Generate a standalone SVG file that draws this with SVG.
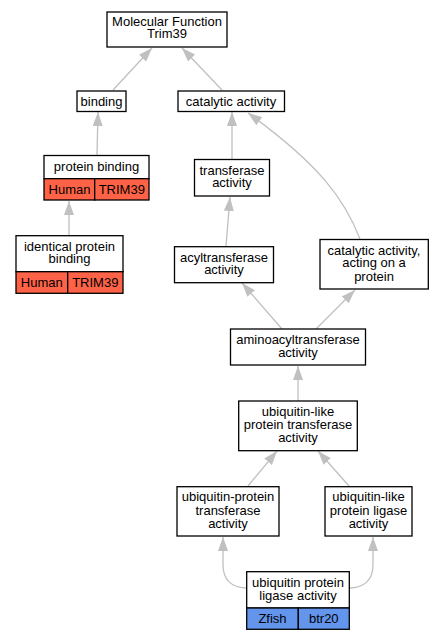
<svg xmlns="http://www.w3.org/2000/svg" width="443" height="640" viewBox="0 0 443 640">
<defs>
<marker id="ah" markerUnits="userSpaceOnUse" markerWidth="14" markerHeight="10" refX="14" refY="5" orient="auto">
<path d="M0,0 L14,5 L0,10 z" fill="#c0c0c0"/>
</marker>
<style>
.b{fill:#fff;stroke:#000;stroke-width:1.3}
.r{fill:#ff6347;stroke:#000;stroke-width:1.3}
.u{fill:#6495ed;stroke:#000;stroke-width:1.3}
text{font-family:"Liberation Sans",Arial,sans-serif;font-size:13px;text-anchor:middle;fill:#000}
.e path{fill:none;stroke:#c0c0c0;stroke-width:1.3;marker-end:url(#ah)}
</style>
</defs>
<rect width="443" height="640" fill="#fff"/>
<g class="e" id="edges">
<path d="M113,90 L152,48"/>
<path d="M222,90 L182,48"/>
<path d="M97,155 L98,112"/>
<path d="M69,235 L69,201"/>
<path d="M232,159 L232,112"/>
<path d="M226,246 L230,197"/>
<path d="M360,239 C345,200 320,165 248,113"/>
<path d="M282,329 L242,283"/>
<path d="M316,329 L355,290"/>
<path d="M298,401 L298,366"/>
<path d="M248,486 L277,451"/>
<path d="M349,486 L318,451"/>
<path d="M247,588 C232,588 223,580 223,565 L223,537"/>
<path d="M349,588 C364,588 373,580 373,565 L373,537"/>
</g>
<g id="n_mf"><rect class="b" x="107" y="12" width="120" height="35"/><text x="167" y="26">Molecular Function</text><text x="167" y="38">Trim39</text></g>
<g id="n_binding"><rect class="b" x="77" y="91" width="49" height="20.5"/><text x="101.5" y="106">binding</text></g>
<g id="n_cat"><rect class="b" x="178" y="91" width="106.5" height="20.5"/><text x="231" y="106">catalytic activity</text></g>
<g id="n_pb"><rect class="b" x="44" y="155.5" width="105" height="23.2"/><text x="96.5" y="170.5">protein binding</text>
<rect class="r" x="44" y="178.7" width="50.7" height="21.3"/><rect class="r" x="94.7" y="178.7" width="54.3" height="21.3"/><text x="69.5" y="194">Human</text><text x="121.8" y="194">TRIM39</text></g>
<g id="n_ipb"><rect class="b" x="16" y="235.7" width="107" height="36"/><text x="69.5" y="250.5">identical protein</text><text x="69.5" y="263">binding</text>
<rect class="r" x="16" y="271.7" width="51.7" height="21.6"/><rect class="r" x="67.7" y="271.7" width="55.3" height="21.6"/><text x="41.8" y="287">Human</text><text x="95.3" y="287">TRIM39</text></g>
<g id="n_tr"><rect class="b" x="194.5" y="159.5" width="75" height="36.5"/><text x="232" y="174.5">transferase</text><text x="232" y="187">activity</text></g>
<g id="n_acyl"><rect class="b" x="174.5" y="246.7" width="99" height="36"/><text x="224" y="261.5">acyltransferase</text><text x="224" y="274">activity</text></g>
<g id="n_cap"><rect class="b" x="320" y="239.5" width="108.3" height="49.5"/><text x="374" y="254.5">catalytic activity,</text><text x="374" y="267">acting on a</text><text x="374" y="281">protein</text></g>
<g id="n_amino"><rect class="b" x="230.5" y="329" width="135" height="36"/><text x="298" y="344">aminoacyltransferase</text><text x="298" y="356.5">activity</text></g>
<g id="n_ulpt"><rect class="b" x="238.7" y="401" width="118.6" height="49.7"/><text x="298" y="415.5">ubiquitin-like</text><text x="298" y="429">protein transferase</text><text x="298" y="442">activity</text></g>
<g id="n_upt"><rect class="b" x="177" y="486.7" width="102" height="49.3"/><text x="228" y="501">ubiquitin-protein</text><text x="228" y="514.5">transferase</text><text x="228" y="527.5">activity</text></g>
<g id="n_ulpl"><rect class="b" x="325" y="486.7" width="87" height="49.3"/><text x="368.5" y="501">ubiquitin-like</text><text x="368.5" y="514.5">protein ligase</text><text x="368.5" y="527.5">activity</text></g>
<g id="n_upl"><rect class="b" x="246.7" y="571.7" width="102.6" height="36.3"/><text x="298" y="586.5">ubiquitin protein</text><text x="298" y="599.5">ligase activity</text>
<rect class="u" x="246.7" y="608" width="51.6" height="21.3"/><rect class="u" x="298.3" y="608" width="51" height="21.3"/><text x="272.5" y="623">Zfish</text><text x="323.8" y="623">btr20</text></g>
</svg>
